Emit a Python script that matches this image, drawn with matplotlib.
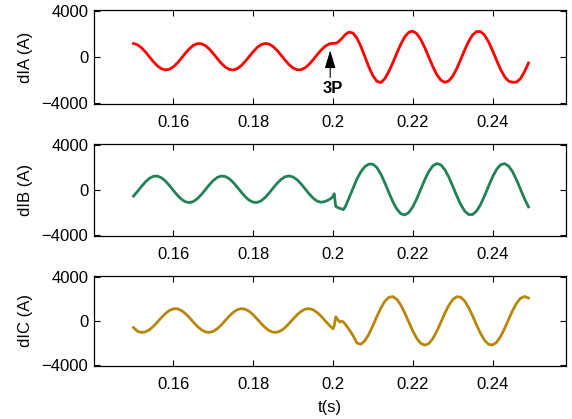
import numpy as np
import matplotlib
matplotlib.use("Agg")
import matplotlib.pyplot as plt

plt.rcParams["font.family"] = ["Liberation Sans", "DejaVu Sans"]

# sample times (s): 1 ms before/after the fault, finer around t = 0.2
t_pre = np.round(np.arange(0.150, 0.1995, 0.001), 4)
t_fault = [0.1995, 0.2000, 0.2003, 0.2007, 0.2012, 0.2017, 0.2022, 0.2026, 0.2031]
t_post = np.round(np.arange(0.204, 0.2495, 0.001), 4)
t = np.concatenate([t_pre, t_fault, t_post])

# phase A current (A)
dIA_pre = [1200, 1085, 827, 460, 36, -386, -747, -997, -1099, -1039,
           -827, -492, -80, 350, 738, 1029, 1183, 1177, 1014, 715,
           322, -108, -516, -845, -1048, -1097, -985, -727, -360, 64,
           486, 847, 1097, 1199, 1139, 927, 592, 180, -250, -638,
           -929, -1083, -1077, -914, -615, -222, 208, 616, 945, 1148]
dIA_fault = [1190, 1200, 1210, 1220, 1300, 1450, 1620, 1780, 1980]
dIA_post = [2180, 2100, 1670, 940, 50, -850, -1600, -2080, -2190, -1850,
            -1233, -476, 354, 1143, 1777, 2170, 2263, 2048, 1551, 843,
            23, -791, -1488, -1970, -2168, -2052, -1644, -996, -201, 629,
            1378, 1939, 2237, 2226, 1910, 1333, 576, -254, -1042, -1677,
            -2070, -2163, -2150, -1850, -1250, -500]

# phase B current (A)
dIB_pre = [-518, -102, 339, 746, 1061, 1240, 1257, 1110, 819, 427,
           -13, -439, -789, -1017, -1090, -997, -750, -386, 45, 482,
           864, 1138, 1264, 1225, 1027, 698, 282, -159, -566, -881,
           -1060, -1077, -930, -639, -247, 193, 619, 969, 1197, 1270,
           1177, 930, 566, 135, -302, -684, -958, -1060, -1000, -830]
dIB_fault = [-720, -560, -310, -1440, -1520, -1610, -1650, -1720, -1450]
dIB_post = [-700, 150, 1000, 1650, 2100, 2320, 2310, 2014, 1430, 658,
            -195, -1009, -1668, -2078, -2185, -1973, -1472, -749, 90, 929,
            1652, 2153, 2365, 2258, 1848, 1189, 375, -478, -1250, -1834,
            -2149, -2149, -1834, -1250, -478, 375, 1189, 1848, 2258, 2365,
            2153, 1652, 929, 90, -749, -1472]

# phase C current (A)
dIC_pre = [-600, -937, -1038, -987, -793, -481, -95, 309, 675, 952,
           1101, 1101, 952, 675, 309, -95, -481, -793, -987, -1038,
           -937, -700, -357, 40, 437, 780, 1017, 1118, 1067, 873,
           561, 175, -229, -595, -872, -1021, -1021, -872, -595, -229,
           175, 561, 873, 1067, 1118, 1017, 780, 437, 40, -357]
dIC_fault = [-540, -700, -450, 380, 120, -90, -20, -90, -300]
dIC_post = [-750, -1300, -2000, -2100, -1784, -1189, -424, 401, 1175, 1783,
            2143, 2207, 1960, 1442, 723, -97, -900, -1573, -2025, -2190,
            -2044, -1610, -949, -150, 670, 1400, 1933, 2200, 2158, 1814,
            1219, 454, -371, -1145, -1753, -2113, -2177, -1930, -1412, -693,
            127, 930, 1603, 2055, 2220, 2074]

series = [
    ("dIA (A)", dIA_pre + dIA_fault + dIA_post, "#ff0000"),
    ("dIB (A)", dIB_pre + dIB_fault + dIB_post, "#238255"),
    ("dIC (A)", dIC_pre + dIC_fault + dIC_post, "#b8860b"),
]

xticks = [0.16, 0.18, 0.2, 0.22, 0.24]
xticklabels = ["0.16", "0.18", "0.2", "0.22", "0.24"]
yticks = [-4000, 0, 4000]

fig = plt.figure(figsize=(5.72, 4.19), dpi=100)
boxes = [(0.1643, 0.7518, 0.8252, 0.2244),
         (0.1643, 0.4368, 0.8252, 0.2195),
         (0.1643, 0.1272, 0.8252, 0.2148)]

axes = []
for (label, vals, color), box in zip(series, boxes):
    ax = fig.add_axes(box)
    ax.plot(t, vals, color=color, lw=2.0)
    ax.set_xlim(0.1401, 0.2584)
    ax.set_ylim(-4050, 4100)
    ax.set_xticks(xticks)
    ax.set_xticklabels(xticklabels)
    ax.set_yticks(yticks)
    ax.tick_params(direction="in", top=True, right=True, length=4,
                   labelsize=12)
    ax.tick_params(axis="x", pad=8)
    ax.tick_params(axis="y", pad=4)
    ax.set_ylabel(label, fontsize=12, labelpad=6)
    for s in ax.spines.values():
        s.set_linewidth(0.9)
    axes.append(ax)

axes[-1].set_xlabel("t(s)", fontsize=12, labelpad=6)

# fault marker
axes[0].annotate("", xy=(0.1993, 600), xytext=(0.1993, -1750),
                 arrowprops=dict(arrowstyle="-|>,head_length=1.1,head_width=0.33",
                                 color="black", lw=0.8, shrinkA=0, shrinkB=0))
axes[0].text(0.2, -2750, "3P", ha="center", va="center", fontsize=12,
             fontweight="bold")

fig.savefig("out.png", dpi=100)
